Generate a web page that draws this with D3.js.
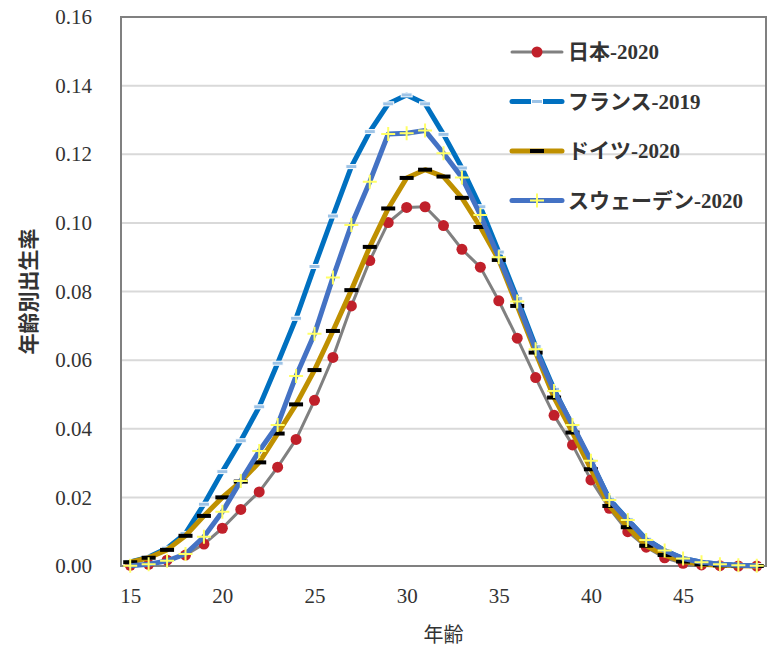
<!DOCTYPE html>
<html>
<head>
<meta charset="utf-8">
<script src="https://cdn.jsdelivr.net/npm/d3@7"></script>
<style>
  body { margin: 0; background: #fff; }
  svg text { font-family: "Liberation Serif", "Noto Sans CJK JP", serif; fill: #333; }
</style>
</head>
<body>
<svg id="chart" width="776" height="650"></svg>
<script>
// ages 15..49
var ages = d3.range(15, 50)
var xTickLabels = [15, 20, 25, 30, 35, 40, 45]
var yTickLabels = [0, 0.02, 0.04, 0.06, 0.08, 0.10, 0.12, 0.14, 0.16]

var japan = [0.0002, 0.0005, 0.0017, 0.0032, 0.0064, 0.011, 0.0165, 0.0216, 0.0288, 0.0369,
  0.0483, 0.0608, 0.0758, 0.089, 0.1001, 0.1045, 0.1047, 0.0992, 0.0923, 0.0871,
  0.0773, 0.0664, 0.0549, 0.0439, 0.0353, 0.0251, 0.0168, 0.0100, 0.0055, 0.0024,
  0.0008, 0.0003, 0.0001, 0.0000, 0.0000]
var france = [0.0012, 0.0026, 0.0052, 0.0095, 0.018, 0.0275, 0.0365, 0.0464, 0.0591, 0.0722,
  0.0873, 0.102, 0.1164, 0.1266, 0.1347, 0.1373, 0.1347, 0.1258, 0.116, 0.1047,
  0.0915, 0.078, 0.064, 0.0515, 0.0408, 0.0305, 0.0195, 0.0135, 0.0078, 0.0045,
  0.0022, 0.0011, 0.0005, 0.0002, 0.0001]
var germany = [0.0011, 0.0024, 0.0047, 0.0088, 0.0146, 0.0200, 0.0246, 0.0302, 0.0386, 0.0471,
  0.0571, 0.0685, 0.0804, 0.0930, 0.1042, 0.1131, 0.1155, 0.1135, 0.1073, 0.0988,
  0.0892, 0.0758, 0.0622, 0.0491, 0.0389, 0.0282, 0.0175, 0.0113, 0.0059, 0.0032,
  0.0013, 0.0005, 0.0002, 0.0001, 0.0000]
var sweden = [0.0001, 0.0005, 0.0015, 0.0035, 0.0085, 0.0158, 0.0248, 0.0335, 0.0411, 0.0554,
  0.0677, 0.0841, 0.0994, 0.1120, 0.1259, 0.1261, 0.1269, 0.1203, 0.1132, 0.1023,
  0.0900, 0.0771, 0.0632, 0.0510, 0.0411, 0.0307, 0.0192, 0.0134, 0.0076, 0.0045,
  0.0022, 0.0011, 0.0005, 0.0002, 0.0001]

var seriesNames = ["日本-2020", "フランス-2019", "ドイツ-2020", "スウェーデン-2020"]
var seriesValues = [japan, france, germany, sweden]
var lineColors = ["#808080", "#0070C0", "#BF9000", "#4472C4"]
var lineWidths = [3, 5, 5, 5]
var markerTypes = ["circle", "dash-light", "dash-black", "plus"]

var svg = d3.select("#chart")
var plotLeft = 121, plotRight = 766, plotTop = 17, plotBottom = 566

var xScale = d3.scalePoint().domain(ages).range([plotLeft, plotRight]).padding(0.5)
var yScale = d3.scaleLinear().domain([0, 0.16]).range([plotBottom, plotTop])

// gridlines
svg.append("g").selectAll("line")
    .data(yTickLabels.slice(1, -1))
    .enter().append("line")
    .attr("x1", plotLeft).attr("x2", plotRight)
    .attr("y1", d => yScale(d)).attr("y2", d => yScale(d))
    .attr("stroke", "#D9D9D9").attr("stroke-width", 2)

// y labels
var yAxis = d3.axisLeft(yScale).tickValues(yTickLabels).tickFormat(d3.format(".2f")).tickSize(0).tickPadding(29)
svg.append("g").attr("transform", "translate(" + plotLeft + ",0)").call(yAxis)
    .call(g => g.select(".domain").remove())
    .selectAll("text").attr("font-size", 21).attr("font-family", "Liberation Serif").attr("fill", "#333")

// x labels
var xAxis = d3.axisBottom(xScale).tickValues(xTickLabels).tickSize(0).tickPadding(22)
svg.append("g").attr("transform", "translate(0," + plotBottom + ")").call(xAxis)
    .call(g => g.select(".domain").remove())
    .selectAll("text").attr("font-size", 21).attr("font-family", "Liberation Serif").attr("fill", "#333")

// frame
svg.append("rect")
    .attr("x", plotLeft).attr("y", plotTop)
    .attr("width", plotRight - plotLeft).attr("height", plotBottom - plotTop)
    .attr("fill", "none").attr("stroke", "#808080").attr("stroke-width", 2)

function drawMarker(g, type, x, y) {
    if (type == "circle") {
        g.append("circle").attr("cx", x).attr("cy", y).attr("r", 5.5).attr("fill", "#C0202A")
    } else if (type == "dash-black") {
        g.append("rect").attr("x", x - 7).attr("y", y - 2).attr("width", 14).attr("height", 4).attr("fill", "#000")
    } else if (type == "dash-light") {
        g.append("rect").attr("x", x - 5.5).attr("y", y - 2).attr("width", 11).attr("height", 4)
            .attr("fill", "#9DC3E6").attr("stroke", "#fff").attr("stroke-width", 1)
    } else if (type == "plus") {
        g.append("path").attr("d", "M" + (x - 7) + "," + y + "H" + (x + 7) + "M" + x + "," + (y - 7) + "V" + (y + 7))
            .attr("stroke", "#FFFF66").attr("stroke-width", 2).attr("fill", "none")
    }
}

var line = d3.line().x((d, i) => xScale(ages[i])).y(d => yScale(d))

seriesValues.forEach(function(vals, s) {
    var g = svg.append("g").attr("class", "series-" + s)
    g.append("path").datum(vals)
        .attr("d", line)
        .attr("fill", "none")
        .attr("stroke", lineColors[s])
        .attr("stroke-width", lineWidths[s])
        .attr("stroke-linejoin", "round")
        .attr("stroke-linecap", "round")
    vals.forEach(function(v, i) {
        drawMarker(g, markerTypes[s], xScale(ages[i]), yScale(v))
    })
})

// legend
var legend = svg.append("g")
seriesNames.forEach(function(name, s) {
    var ly = 52 + s * 49.5
    var lg = legend.append("g")
    lg.append("line").attr("x1", 512).attr("x2", 562).attr("y1", ly).attr("y2", ly)
        .attr("stroke", lineColors[s]).attr("stroke-width", lineWidths[s]).attr("stroke-linecap", "round")
    drawMarker(lg, markerTypes[s], 537, ly)
    lg.append("text").attr("x", 568).attr("y", ly).attr("dy", "0.35em")
        .attr("font-size", 21).attr("font-weight", "bold")
        .text(name)
})

// axis titles
svg.append("text")
    .attr("transform", "translate(36," + ((plotTop + plotBottom) / 2) + ") rotate(-90)")
    .attr("text-anchor", "middle")
    .attr("font-size", 21).attr("font-weight", "bold")
    .attr("font-family", "Noto Sans CJK JP")
    .text("年齢別出生率")

svg.append("text")
    .attr("x", (plotLeft + plotRight) / 2).attr("y", 642)
    .attr("text-anchor", "middle")
    .attr("font-size", 20)
    .attr("font-family", "Noto Sans CJK JP")
    .text("年齢")
</script>
</body>
</html>
